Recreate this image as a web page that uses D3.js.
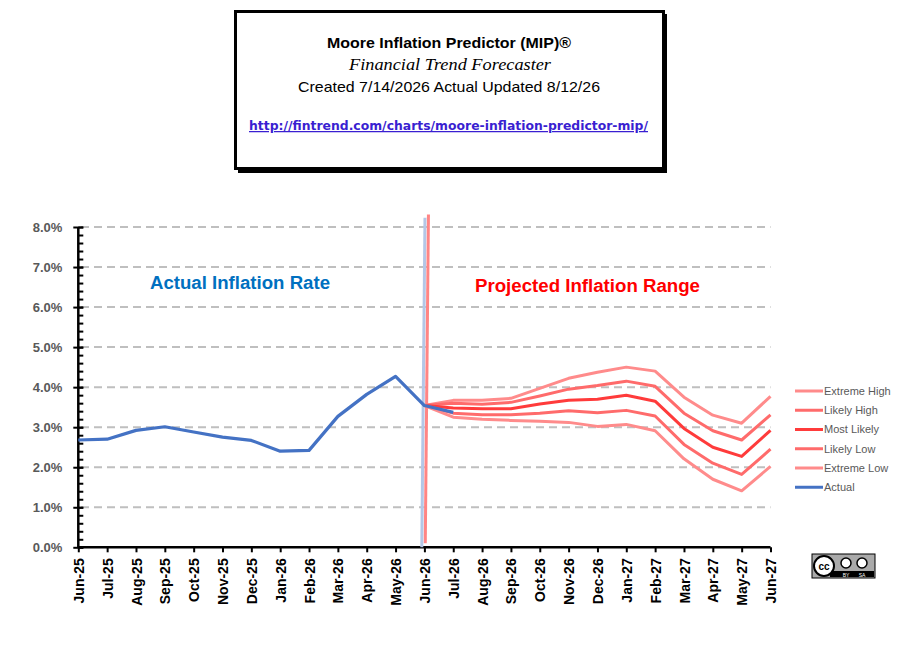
<!DOCTYPE html>
<html>
<head>
<meta charset="utf-8">
<script src="https://cdn.jsdelivr.net/npm/d3@7"></script>
<style>
  body { margin: 0; background: #fff; }
  text { font-family: "Liberation Sans", Arial, sans-serif; }
</style>
</head>
<body>
<script>
// month labels along the x axis
var months = ["Jun-25","Jul-25","Aug-25","Sep-25","Oct-25","Nov-25","Dec-25",
              "Jan-26","Feb-26","Mar-26","Apr-26","May-26","Jun-26","Jul-26",
              "Aug-26","Sep-26","Oct-26","Nov-26","Dec-26","Jan-27","Feb-27",
              "Mar-27","Apr-27","May-27","Jun-27"];

// actual inflation, Jun-25 .. Jul-26
var actual = [2.68, 2.70, 2.92, 3.01, 2.88, 2.75, 2.67, 2.40, 2.42, 3.27, 3.82, 4.27, 3.54, 3.37];

// projections, Jun-26 .. Jun-27
var projStart = 12;
var extremeHigh = [3.54, 3.67, 3.67, 3.72, 3.97, 4.22, 4.37, 4.50, 4.40, 3.75, 3.30, 3.10, 3.77];
var likelyHigh  = [3.54, 3.60, 3.57, 3.62, 3.78, 3.95, 4.04, 4.15, 4.02, 3.35, 2.91, 2.68, 3.31];
var mostLikely  = [3.54, 3.48, 3.46, 3.46, 3.58, 3.67, 3.70, 3.80, 3.65, 2.97, 2.50, 2.27, 2.92];
var likelyLow   = [3.54, 3.35, 3.31, 3.31, 3.35, 3.41, 3.36, 3.42, 3.28, 2.57, 2.10, 1.82, 2.45];
var extremeLow  = [3.54, 3.25, 3.20, 3.17, 3.15, 3.12, 3.02, 3.07, 2.91, 2.21, 1.70, 1.41, 2.02];

// divider series at Jun-26 (month index, value)
var dividerActual = [[11.91, 0], [12.02, 8.23]];
var dividerProj   = [[12.03, 0.1], [12.14, 8.31]];

var yTicks = [0, 1, 2, 3, 4, 5, 6, 7, 8];

var svg = d3.select("body").append("svg")
    .attr("width", 910)
    .attr("height", 661);

var x = d3.scaleLinear().domain([0, 24]).range([78.3, 770.5]);
var y = d3.scaleLinear().domain([0, 8]).range([547.3, 227]);

// title box with shadow
svg.append("rect").attr("x", 238).attr("y", 14).attr("width", 429).attr("height", 159).attr("fill", "#000");
svg.append("rect").attr("x", 235.5).attr("y", 11.5).attr("width", 428).attr("height", 157)
    .attr("fill", "#fff").attr("stroke", "#000").attr("stroke-width", 3);

svg.append("text").attr("x", 449).attr("y", 48).attr("text-anchor", "middle")
    .attr("font-size", 14).attr("font-weight", "bold")
    .attr("textLength", 244).attr("lengthAdjust", "spacingAndGlyphs")
    .text("Moore Inflation Predictor (MIP)®");
svg.append("text").attr("x", 450).attr("y", 70).attr("text-anchor", "middle")
    .style("font-family", "'Liberation Serif', serif")
    .attr("font-size", 17).attr("font-style", "italic")
    .attr("textLength", 202).attr("lengthAdjust", "spacingAndGlyphs")
    .text("Financial Trend Forecaster");
svg.append("text").attr("x", 449).attr("y", 92).attr("text-anchor", "middle")
    .attr("font-size", 15)
    .attr("textLength", 302).attr("lengthAdjust", "spacingAndGlyphs")
    .text("Created 7/14/2026 Actual Updated 8/12/26");
svg.append("text").attr("x", 448.5).attr("y", 130).attr("text-anchor", "middle")
    .style("font-family", "'DejaVu Sans', sans-serif")
    .attr("font-size", 12.5).attr("font-weight", "bold").attr("fill", "#3a1fd1")
    .attr("text-decoration", "underline")
    .attr("textLength", 399).attr("lengthAdjust", "spacingAndGlyphs")
    .text("http://fintrend.com/charts/moore-inflation-predictor-mip/");

// gridlines
svg.append("g").selectAll("line")
    .data(yTicks.filter(function(d) { return d > 0; }))
    .join("line")
    .attr("x1", 81).attr("x2", x(24))
    .attr("y1", function(d) { return y(d); })
    .attr("y2", function(d) { return y(d); })
    .attr("stroke", "#bfbfbf").attr("stroke-width", 2)
    .attr("stroke-dasharray", "8,5");

// y axis: minor ticks then major
var yMinor = svg.append("g").attr("transform", "translate(" + x(0) + ",0)")
    .call(d3.axisLeft(y).tickValues(d3.range(0, 8.01, 0.2)).tickSize(0).tickFormat(""));
yMinor.select(".domain").remove();
yMinor.selectAll(".tick line").attr("x1", 0).attr("x2", 5).attr("stroke", "#000").attr("stroke-width", 2);

var yAxis = svg.append("g").attr("transform", "translate(" + x(0) + ",0)")
    .call(d3.axisLeft(y).tickValues(yTicks).tickSize(5).tickPadding(11)
        .tickFormat(function(d) { return d3.format(".1%")(d / 100); }));
yAxis.select(".domain").attr("stroke", "#000").attr("stroke-width", 2.5).attr("d", "M0," + y(0) + "V" + y(8));
yAxis.selectAll(".tick line").attr("x1", -5).attr("x2", 5).attr("stroke", "#000").attr("stroke-width", 2);
yAxis.selectAll(".tick text")
    .style("font-family", "'Liberation Sans', Arial, sans-serif")
    .attr("font-size", 13).attr("font-weight", "bold").attr("fill", "#595959");

// x axis
var xAxis = svg.append("g").attr("transform", "translate(0," + y(0) + ")")
    .call(d3.axisBottom(x).tickValues(d3.range(0, 25)).tickSize(5)
        .tickFormat(function(i) { return months[i]; }));
xAxis.select(".domain").attr("stroke", "#000").attr("stroke-width", 2.5).attr("d", "M" + x(0) + ",0H" + x(24));
xAxis.selectAll(".tick line").attr("stroke", "#000").attr("stroke-width", 2);
xAxis.selectAll(".tick text")
    .style("font-family", "'Liberation Sans', Arial, sans-serif")
    .attr("font-size", 14).attr("font-weight", "bold").attr("fill", "#000")
    .attr("transform", "rotate(-90)")
    .attr("text-anchor", "end")
    .attr("x", -11).attr("y", 0).attr("dy", "0.36em");

// lines
var line = d3.line()
    .x(function(d) { return x(d[0]); })
    .y(function(d) { return y(d[1]); });

function pts(arr, start) {
  return arr.map(function(v, i) { return [start + i, v]; });
}

svg.append("path").datum(dividerActual).attr("d", line)
    .attr("fill", "none").attr("stroke", "#b4c7e7").attr("stroke-width", 3);
svg.append("path").datum(dividerProj).attr("d", line)
    .attr("fill", "none").attr("stroke", "#ff8585").attr("stroke-width", 3);

var series = [
  {name: "Extreme High", values: extremeHigh, color: "#ff8b8b"},
  {name: "Likely High",  values: likelyHigh,  color: "#ff6b6b"},
  {name: "Most Likely",  values: mostLikely,  color: "#ff3b3b"},
  {name: "Likely Low",   values: likelyLow,   color: "#ff6b6b"},
  {name: "Extreme Low",  values: extremeLow,  color: "#ff8b8b"}
];

svg.append("g").selectAll("path")
    .data(series)
    .join("path")
    .attr("d", function(s) { return line(pts(s.values, projStart)); })
    .attr("fill", "none")
    .attr("stroke", function(s) { return s.color; })
    .attr("stroke-width", 3)
    .attr("stroke-linejoin", "round");

svg.append("path").datum(pts(actual, 0)).attr("d", line)
    .attr("fill", "none").attr("stroke", "#4472c4").attr("stroke-width", 3.2)
    .attr("stroke-linejoin", "round");

// annotations
svg.append("text").attr("x", 150).attr("y", 289)
    .attr("font-size", 18).attr("font-weight", "bold").attr("fill", "#0070c0")
    .attr("textLength", 180).attr("lengthAdjust", "spacingAndGlyphs")
    .text("Actual Inflation Rate");
svg.append("text").attr("x", 475).attr("y", 292)
    .attr("font-size", 18).attr("font-weight", "bold").attr("fill", "#ff0000")
    .attr("textLength", 225).attr("lengthAdjust", "spacingAndGlyphs")
    .text("Projected Inflation Range");

// legend
var legendItems = series.concat([{name: "Actual", color: "#4472c4"}]);
var legend = svg.append("g").selectAll("g")
    .data(legendItems)
    .join("g")
    .attr("transform", function(d, i) { return "translate(795," + (391 + i * 19.25) + ")"; });
legend.append("line").attr("x1", 0).attr("x2", 28)
    .attr("stroke", function(d) { return d.color; }).attr("stroke-width", 3);
legend.append("text").attr("x", 29).attr("dy", "0.35em")
    .attr("font-size", 11).attr("fill", "#595959")
    .text(function(d) { return d.name; });

// CC BY-SA badge
var cc = svg.append("g").attr("transform", "translate(812,554)");
cc.append("rect").attr("width", 63).attr("height", 24).attr("fill", "#aaaaaa").attr("stroke", "#000").attr("stroke-width", 1);
cc.append("rect").attr("x", 18).attr("y", 17).attr("width", 44).attr("height", 6).attr("fill", "#000");
cc.append("circle").attr("cx", 12).attr("cy", 12).attr("r", 10).attr("fill", "#fff").attr("stroke", "#000").attr("stroke-width", 2);
cc.append("text").attr("x", 12).attr("y", 15.5).attr("text-anchor", "middle")
    .attr("font-size", 10).attr("font-weight", "bold").text("cc");
cc.append("circle").attr("cx", 34).attr("cy", 9).attr("r", 5).attr("fill", "#fff").attr("stroke", "#000").attr("stroke-width", 1.5);
cc.append("circle").attr("cx", 50).attr("cy", 9).attr("r", 5).attr("fill", "#fff").attr("stroke", "#000").attr("stroke-width", 1.5);
cc.append("text").attr("x", 34).attr("y", 22.5).attr("text-anchor", "middle")
    .attr("font-size", 5).attr("fill", "#fff").text("BY");
cc.append("text").attr("x", 50).attr("y", 22.5).attr("text-anchor", "middle")
    .attr("font-size", 5).attr("fill", "#fff").text("SA");
</script>
</body>
</html>
